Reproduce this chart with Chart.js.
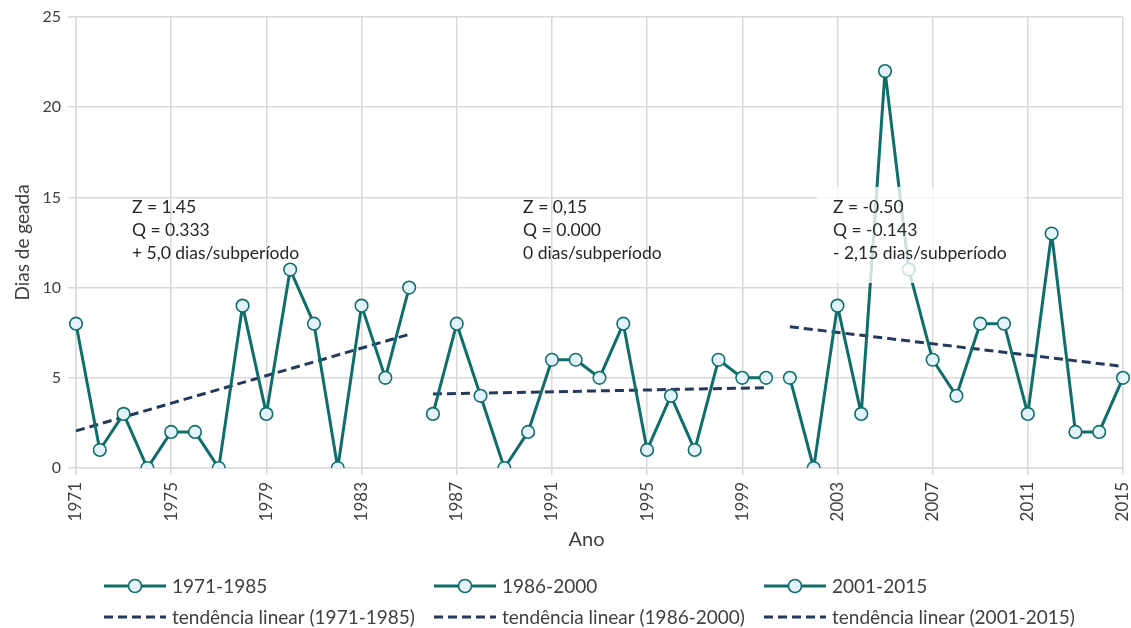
<!DOCTYPE html>
<html>
<head>
<meta charset="utf-8">
<script src="https://cdn.jsdelivr.net/npm/chart.js@4.4.1/dist/chart.umd.min.js"></script>
<style>
  html, body { margin: 0; padding: 0; background: #ffffff; }
  #wrap { width: 1131px; height: 628px; position: relative; }
</style>
</head>
<body>
<div id="wrap"><canvas id="geada" width="1131" height="628"></canvas></div>
<script>
// Anos (categorias do eixo X)
const anos = ['1971','1972','1973','1974','1975','1976','1977','1978','1979','1980',
              '1981','1982','1983','1984','1985','1986','1987','1988','1989','1990',
              '1991','1992','1993','1994','1995','1996','1997','1998','1999','2000',
              '2001','2002','2003','2004','2005','2006','2007','2008','2009','2010',
              '2011','2012','2013','2014','2015'];

// Anos com rótulo no eixo X
const anosRotulados = ['1971','1975','1979','1983','1987','1991','1995','1999','2003','2007','2011','2015'];

// Dias de geada por subperíodo
const geada1971_1985 = [8, 1, 3, 0, 2, 2, 0, 9, 3, 11, 8, 0, 9, 5, 10];
const geada1986_2000 = [3, 8, 4, 0, 2, 6, 6, 5, 8, 1, 4, 1, 6, 5, 5];
const geada2001_2015 = [5, 0, 9, 3, 22, 11, 6, 4, 8, 8, 3, 13, 2, 2, 5];

// Tendência linear: valor no primeiro e no último ano de cada subperíodo
const tend1971_1985 = [2.06, 7.41];
const tend1986_2000 = [4.10, 4.45];
const tend2001_2015 = [7.83, 5.63];

// Rótulos de cada subperíodo
const subperiodos = ['1971-1985', '1986-2000', '2001-2015'];

// Estatísticas de tendência (Mann-Kendall / Sen)
const estatZ = ['Z = 1.45', 'Z = 0,15', 'Z = -0.50'];
const estatQ = ['Q = 0.333', 'Q = 0.000', 'Q = -0.143'];
const estatDias = ['+ 5,0 dias/subperíodo', '0 dias/subperíodo', '- 2,15 dias/subperíodo'];

const COR_SERIE = '#0f6e6a';
const COR_TEND = '#25395f';
const COR_MARCA = '#e4f3fb';
const COR_GRADE = '#d9d9d9';
const COR_TEXTO = '#404040';
const FONTE = 'Lato, "Open Sans", sans-serif';

function serieCompleta(valores, inicio) {
  const arr = anos.map(() => null);
  const i0 = anos.indexOf(inicio);
  valores.forEach((v, k) => { arr[i0 + k] = v; });
  return arr;
}

function tendenciaCompleta(extremos, inicio, fim) {
  const arr = anos.map(() => null);
  arr[anos.indexOf(inicio)] = extremos[0];
  arr[anos.indexOf(fim)] = extremos[1];
  return arr;
}

const periodos = [
  { valores: geada1971_1985, tend: tend1971_1985, ini: '1971', fim: '1985' },
  { valores: geada1986_2000, tend: tend1986_2000, ini: '1986', fim: '2000' },
  { valores: geada2001_2015, tend: tend2001_2015, ini: '2001', fim: '2015' }
];

const datasets = [];
periodos.forEach((p, i) => {
  datasets.push({
    label: subperiodos[i],
    data: serieCompleta(p.valores, p.ini),
    borderColor: COR_SERIE,
    backgroundColor: COR_MARCA,
    borderWidth: 3,
    borderJoinStyle: 'round',
    pointRadius: 6.3,
    pointBorderWidth: 1.6,
    pointBorderColor: COR_SERIE,
    pointBackgroundColor: COR_MARCA,
    spanGaps: false,
    tension: 0,
    order: 1
  });
});
periodos.forEach((p, i) => {
  datasets.push({
    label: 'tendência linear (' + subperiodos[i] + ')',
    data: tendenciaCompleta(p.tend, p.ini, p.fim),
    borderColor: COR_TEND,
    borderWidth: 3,
    borderDash: [9, 5],
    pointRadius: 0,
    spanGaps: true,
    order: 2
  });
});

// Caixas de texto com as estatísticas (posição em unidades do gráfico)
const caixas = [
  { x: 2.35, y: 14.47, fundo: false },
  { x: 18.79, y: 14.47, fundo: false },
  { x: 31.81, y: 14.47, fundo: true }
];

const pluginAnotacoes = {
  id: 'anotacoes',
  afterDatasetsDraw(chart) {
    const ctx = chart.ctx;
    const sx = chart.scales.x, sy = chart.scales.y;
    ctx.save();
    caixas.forEach((c, i) => {
      const px = sx.getPixelForValue(c.x);
      const py = sy.getPixelForValue(c.y);
      if (c.fundo) {
        ctx.fillStyle = 'rgba(255,255,255,0.78)';
        ctx.fillRect(px - 16, py - 20, 208, 96);
      }
      ctx.fillStyle = '#262626';
      ctx.font = '17.5px ' + FONTE;
      ctx.textBaseline = 'middle';
      ctx.textAlign = 'left';
      ctx.fillText(estatZ[i], px, py);
      ctx.fillText(estatQ[i], px, py + 23);
      ctx.fillText(estatDias[i], px, py + 46);
    });
    ctx.restore();
  },
  afterDraw(chart) {
    const ctx = chart.ctx;
    ctx.save();
    // título do eixo X
    ctx.fillStyle = COR_TEXTO;
    ctx.font = '20px ' + FONTE;
    ctx.textAlign = 'center';
    ctx.textBaseline = 'middle';
    const sx = chart.scales.x;
    ctx.fillText('Ano', (sx.left + sx.right) / 2 - 13, 540);

    // legenda: duas linhas, três colunas
    const colunas = [104, 434, 764];
    const linhas = [586, 617];
    ctx.font = '19px ' + FONTE;
    ctx.textAlign = 'left';
    chart.data.datasets.forEach((ds, i) => {
      const col = colunas[i % 3];
      const y = linhas[Math.floor(i / 3)];
      ctx.beginPath();
      ctx.moveTo(col, y);
      ctx.lineTo(col + 62, y);
      ctx.strokeStyle = ds.borderColor;
      ctx.lineWidth = 3;
      ctx.setLineDash(ds.borderDash || []);
      ctx.stroke();
      ctx.setLineDash([]);
      if (ds.pointRadius > 0) {
        ctx.beginPath();
        ctx.arc(col + 31, y, 6.5, 0, Math.PI * 2);
        ctx.fillStyle = COR_MARCA;
        ctx.fill();
        ctx.lineWidth = 1.6;
        ctx.strokeStyle = COR_SERIE;
        ctx.stroke();
      }
      ctx.fillStyle = COR_TEXTO;
      ctx.fillText(ds.label, col + 68, y + 1);
    });
    ctx.restore();
  }
};

new Chart(document.getElementById('geada'), {
  type: 'line',
  data: { labels: anos, datasets },
  options: {
    responsive: false,
    animation: false,
    devicePixelRatio: 1,
    layout: { padding: { top: 17, right: 8, bottom: 75, left: 0 } },
    plugins: {
      legend: { display: false },
      tooltip: { enabled: false }
    },
    scales: {
      x: {
        type: 'category',
        offset: false,
        afterFit(scale) {
          scale.height = 85;
          scale.paddingLeft = 0;
          scale.paddingRight = 8;
        },
        grid: { color: COR_GRADE, lineWidth: 1.5, tickLength: 7, drawTicks: true },
        border: { color: COR_GRADE, width: 1.5 },
        ticks: {
          autoSkip: false,
          minRotation: 90,
          maxRotation: 90,
          padding: 7,
          color: COR_TEXTO,
          font: { family: FONTE, size: 17 },
          callback(value, index) {
            const a = anos[index];
            return anosRotulados.includes(a) ? a : null;
          }
        }
      },
      y: {
        min: 0,
        max: 25,
        afterFit(scale) { scale.width = 76; },
        grid: { color: COR_GRADE, lineWidth: 1.5, tickLength: 8 },
        border: { color: COR_GRADE, width: 1.5 },
        ticks: {
          stepSize: 5,
          padding: 7,
          color: COR_TEXTO,
          font: { family: FONTE, size: 16 }
        },
        title: {
          display: true,
          text: 'Dias de geada',
          color: COR_TEXTO,
          font: { family: FONTE, size: 19 },
          padding: { top: 11, bottom: 0 }
        }
      }
    }
  },
  plugins: [pluginAnotacoes]
});
</script>
</body>
</html>
